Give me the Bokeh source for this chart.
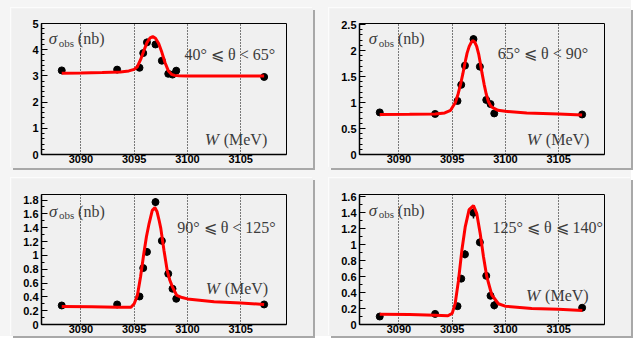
from bokeh.plotting import figure
from bokeh.layouts import column, row
from bokeh.models import Range1d, FixedTicker, Label
from bokeh.embed import file_html
from bokeh.resources import INLINE

# Scan energies (MeV) of the data points, shared by all panels
W_POINTS = [3088.2, 3093.4, 3095.5, 3095.85, 3096.2, 3097.0, 3097.6, 3098.2, 3098.6, 3098.95, 3107.2]

# Observed cross sections (nb) and their errors, one list per angular bin
SIG_1 = [3.21, 3.24, 3.31, 3.87, 4.28, 4.20, 3.58, 3.08, 3.05, 3.20, 2.96]
ERR_1 = [0.08, 0.08, 0.08, 0.10, 0.10, 0.10, 0.10, 0.08, 0.08, 0.12, 0.06]
SIG_2 = [0.81, 0.78, 1.03, 1.34, 1.71, 2.22, 1.69, 1.05, 0.97, 0.79, 0.77]
ERR_2 = [0.03, 0.03, 0.04, 0.05, 0.05, 0.07, 0.05, 0.04, 0.04, 0.05, 0.02]
SIG_3 = [0.275, 0.29, 0.405, 0.816, 1.05, 1.77, 1.21, 0.734, 0.517, 0.372, 0.29]
ERR_3 = [0.02, 0.02, 0.03, 0.04, 0.05, 0.06, 0.05, 0.04, 0.04, 0.04, 0.02]
SIG_4 = [0.10, 0.133, 0.23, 0.575, 0.88, 1.40, 1.03, 0.61, 0.36, 0.24, 0.21]
ERR_4 = [0.02, 0.02, 0.03, 0.04, 0.05, 0.07, 0.05, 0.04, 0.04, 0.05, 0.02]

# Fitted line shapes, tabulated
FIT_W_1 = [3088.2, 3090.0, 3092.0, 3093.7, 3094.5, 3095.0, 3095.3, 3095.6, 3095.9, 3096.2,
           3096.5, 3096.75, 3097.0, 3097.3, 3097.6, 3097.9, 3098.2, 3098.5, 3098.8, 3099.2,
           3100.0, 3107.2]
FIT_1 = [3.10, 3.11, 3.13, 3.15, 3.19, 3.25, 3.35, 3.62, 3.95, 4.27,
         4.45, 4.50, 4.44, 4.24, 3.90, 3.50, 3.20, 3.06, 3.02, 3.01,
         3.00, 3.00]
FIT_W_2 = [3088.2, 3091.0, 3093.4, 3094.3, 3094.85, 3095.3, 3095.55, 3095.8, 3096.0, 3096.2,
           3096.4, 3096.6, 3096.8, 3096.95, 3097.1, 3097.3, 3097.5, 3097.65, 3097.8, 3098.0,
           3098.2, 3098.4, 3098.6, 3098.8, 3099.3, 3100.0, 3102.0, 3105.0, 3107.2]
FIT_2 = [0.77, 0.775, 0.78, 0.80, 0.85, 1.00, 1.16, 1.36, 1.55, 1.76,
         1.95, 2.08, 2.16, 2.19, 2.17, 2.08, 1.92, 1.75, 1.57, 1.35,
         1.16, 1.02, 0.94, 0.90, 0.85, 0.83, 0.80, 0.78, 0.76]
FIT_W_3 = [3088.2, 3091.0, 3093.4, 3094.7, 3095.0, 3095.3, 3095.6, 3095.9, 3096.15, 3096.4,
           3096.7, 3096.95, 3097.15, 3097.35, 3097.5, 3097.8, 3098.1, 3098.35, 3098.6, 3099.0,
           3099.5, 3100.0, 3102.5, 3105.0, 3107.2]
FIT_3 = [0.26, 0.255, 0.25, 0.25, 0.30, 0.42, 0.69, 1.02, 1.27, 1.46,
         1.65, 1.69, 1.63, 1.50, 1.39, 1.07, 0.78, 0.64, 0.54, 0.42,
         0.39, 0.37, 0.33, 0.31, 0.29]
FIT_W_4 = [3088.2, 3091.0, 3093.4, 3094.6, 3095.0, 3095.28, 3095.59, 3095.91, 3096.22, 3096.59,
           3097.0, 3097.31, 3097.63, 3097.94, 3098.25, 3098.72, 3099.34, 3099.97, 3102.47, 3104.97,
           3107.22]
FIT_4 = [0.13, 0.125, 0.117, 0.11, 0.14, 0.26, 0.55, 0.93, 1.22, 1.44,
         1.49, 1.39, 1.14, 0.85, 0.60, 0.37, 0.26, 0.23, 0.20, 0.19,
         0.175]

# Axis ticks and labels
X_TICKS = [3090, 3095, 3100, 3105]
Y_TICKS_1 = [0, 1, 2, 3, 4, 5]
Y_LABELS_1 = ["0", "1", "2", "3", "4", "5"]
Y_TICKS_2 = [0, 0.5, 1, 1.5, 2, 2.5]
Y_LABELS_2 = ["0", "0.5", "1", "1.5", "2", "2.5"]
Y_TICKS_3 = [0, 0.2, 0.4, 0.6, 0.8, 1.0, 1.2, 1.4, 1.6, 1.8]
Y_LABELS_3 = ["0", "0.2", "0.4", "0.6", "0.8", "1", "1.2", "1.4", "1.6", "1.8"]
Y_TICKS_4 = [0, 0.2, 0.4, 0.6, 0.8, 1.0, 1.2, 1.4, 1.6]
Y_LABELS_4 = ["0", "0.2", "0.4", "0.6", "0.8", "1", "1.2", "1.4", "1.6"]

ANGLE_TEXT = ["40° ⩽ θ < 65°", "65° ⩽ θ < 90°", "90° ⩽ θ < 125°", "125° ⩽ θ ⩽ 140°"]

X_RANGE = (3086.3, 3109.3)
PAD_FILL = "#f0f0f0"
TEXT_COLOR = "#3c3c3c"
SERIF = "Liberation Serif"
# raised pad look: dark edge right/bottom, light edge top/left (drawn outside the pad)
BEVEL = "2px 2px 0px #a8a8a8, -1px -1px 0px #fcfcfc"


def panel(w, sig, err, fit_w, fit, yticks, ylabels, ytop, minor_step, angle,
          height, top, bottom, angle_pos, w_pos, sigma_pos):
    p = figure(width=302, height=height, output_backend="svg", toolbar_location=None,
               x_range=Range1d(*X_RANGE), y_range=Range1d(0, ytop),
               min_border_left=30, min_border_right=27,
               min_border_top=top, min_border_bottom=bottom,
               background_fill_color=PAD_FILL, border_fill_color=PAD_FILL,
               outline_line_color="black", outline_line_width=1,
               styles={"box-shadow": BEVEL})

    # axes
    p.xaxis.ticker = FixedTicker(ticks=X_TICKS)
    p.xaxis.major_tick_in = 0
    p.xaxis.major_tick_out = 0
    p.xaxis.major_label_standoff = 0
    n_minor = int(round(ytop / minor_step))
    minors = [i * minor_step for i in range(n_minor + 1)]
    p.yaxis.ticker = FixedTicker(ticks=yticks, minor_ticks=minors)
    p.yaxis.major_label_overrides = {t: s for t, s in zip(yticks, ylabels)}
    p.yaxis.major_tick_in = 6
    p.yaxis.major_tick_out = 0
    p.yaxis.minor_tick_in = 3
    p.yaxis.minor_tick_out = 0
    p.yaxis.major_label_standoff = 3
    for ax in (p.xaxis, p.yaxis):
        ax.axis_line_color = "black"
        ax.axis_line_width = 1.5
        ax.major_tick_line_color = "black"
        ax.minor_tick_line_color = "black"
        ax.major_label_text_font = "Liberation Sans"
        ax.major_label_text_font_style = "bold"
        ax.major_label_text_font_size = "11px"
        ax.major_label_text_color = "black"
    p.xaxis.minor_tick_line_color = None

    # dotted verticals at the energy ticks
    p.xgrid.ticker = FixedTicker(ticks=X_TICKS)
    p.xgrid.grid_line_color = "black"
    p.xgrid.grid_line_dash = "1 2"
    p.xgrid.grid_line_width = 1
    p.ygrid.grid_line_color = None

    # data with error bars
    p.segment(x0=w, y0=[s - e for s, e in zip(sig, err)],
              x1=w, y1=[s + e for s, e in zip(sig, err)],
              line_color="black", line_width=1.5)
    p.scatter(w, sig, size=7, color="black")
    # fit
    p.line(fit_w, fit, line_color="#ff0000", line_width=3)

    x0, x1 = X_RANGE

    def at(fx, fy):
        return x0 + fx * (x1 - x0), fy * ytop

    sx, sy = at(*sigma_pos)
    p.add_layout(Label(x=sx, y=sy, text="σ", text_font=SERIF, text_font_style="italic",
                       text_font_size="17px", text_color=TEXT_COLOR, text_baseline="middle"))
    p.add_layout(Label(x=sx, y=sy, x_offset=10, y_offset=-4, text="obs", text_font=SERIF,
                       text_font_size="11px", text_color=TEXT_COLOR, text_baseline="middle"))
    p.add_layout(Label(x=sx, y=sy, x_offset=29, text="(nb)", text_font=SERIF,
                       text_font_size="16px", text_color=TEXT_COLOR, text_baseline="middle"))

    ax_, ay_ = at(*angle_pos)
    p.add_layout(Label(x=ax_, y=ay_, text=angle, text_font=SERIF,
                       text_font_size="16px", text_color=TEXT_COLOR, text_baseline="middle"))

    wx, wy = at(*w_pos)
    p.add_layout(Label(x=wx, y=wy, text="W", text_font=SERIF, text_font_style="italic",
                       text_font_size="17px", text_color=TEXT_COLOR, text_baseline="middle"))
    p.add_layout(Label(x=wx, y=wy, x_offset=19, text="(MeV)", text_font=SERIF,
                       text_font_size="16px", text_color=TEXT_COLOR, text_baseline="middle"))
    return p


p1 = panel(W_POINTS, SIG_1, ERR_1, FIT_W_1, FIT_1, Y_TICKS_1, Y_LABELS_1, 5.0, 0.2,
           ANGLE_TEXT[0], 160, 15, 14, (0.584, 0.762), (0.666, 0.114), (0.030, 0.883))
p2 = panel(W_POINTS, SIG_2, ERR_2, FIT_W_2, FIT_2, Y_TICKS_2, Y_LABELS_2, 2.52, 0.1,
           ANGLE_TEXT[1], 160, 15, 14, (0.564, 0.770), (0.683, 0.114), (0.038, 0.883))
p3 = panel(W_POINTS, SIG_3, ERR_3, FIT_W_3, FIT_3, Y_TICKS_3, Y_LABELS_3, 1.88, 0.1,
           ANGLE_TEXT[2], 158, 16, 12, (0.554, 0.744), (0.670, 0.274), (0.031, 0.872))
p4 = panel(W_POINTS, SIG_4, ERR_4, FIT_W_4, FIT_4, Y_TICKS_4, Y_LABELS_4, 1.63, 0.1,
           ANGLE_TEXT[3], 158, 16, 12, (0.543, 0.744), (0.680, 0.223), (0.038, 0.877))

layout = column(row(p1, p2, spacing=16), row(p3, p4, spacing=16), spacing=10,
                styles={"background-color": "#f5f5f5", "padding": "8px 0px 0px 11px"})

with open("out.html", "w") as f:
    f.write(file_html(layout, INLINE))
